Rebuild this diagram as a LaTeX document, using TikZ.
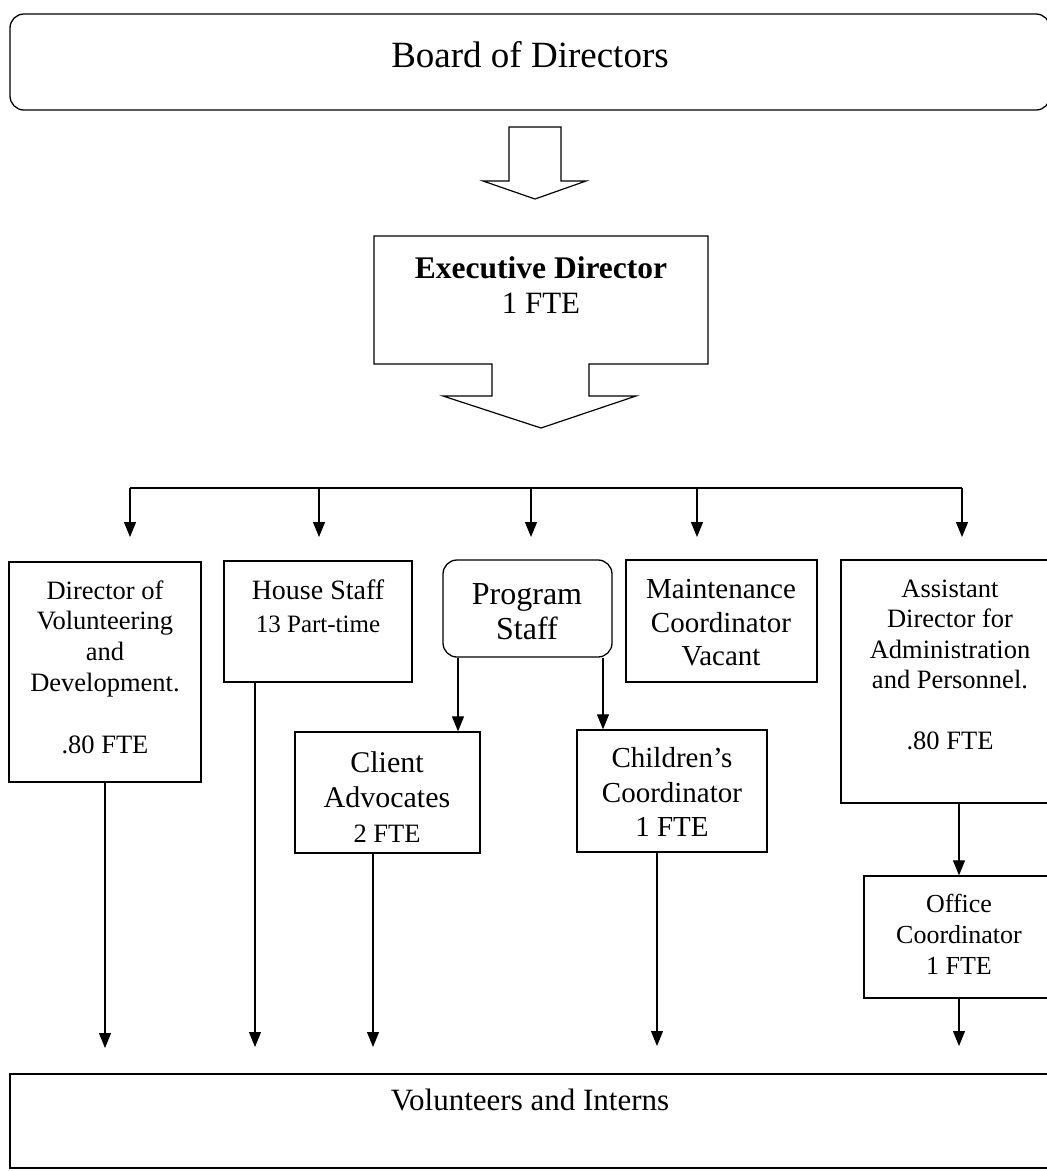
\documentclass[tikz,border=0pt]{standalone}
\usepackage{fontspec}
\setmainfont{Liberation Serif}
\usetikzlibrary{arrows.meta}
\begin{document}
\begin{tikzpicture}[x=1pt,y=-1pt,
  box/.style={draw, line width=1.3pt, inner sep=0pt},
  rbox/.style={box, rounded corners=14pt},
  lbl/.style={align=center, inner sep=0pt},
  conn/.style={line width=1.1pt, -{Triangle[width=12pt,length=15pt]}},
  plainline/.style={line width=1.2pt},
  hollow/.style={draw, line width=1.2pt, line join=miter}]
\useasboundingbox (0,0) rectangle (1047,1171);
\clip (0,0) rectangle (1047,1171);

% Board
\node[rbox, minimum width=1040pt, minimum height=96pt] (board) at (530,62) {};
\node[lbl, font=\fontsize{37}{40}\selectfont] (tboard) at (530,55) {Board of Directors};

% hollow arrow
\draw[hollow] (509,127) -- (561,127) -- (561,181) -- (586,181) -- (535,199)
  -- (483,181) -- (509,181) -- cycle;

% Executive director callout
\draw[hollow] (374,236) -- (708,236) -- (708,364) -- (589,364) -- (589,396)
  -- (636,396) -- (541,428) -- (443,396) -- (492,396) -- (492,364)
  -- (374,364) -- cycle;
\node[lbl, font=\fontsize{31.5}{35}\selectfont] (texec) at (541,285)
  {\bfseries Executive Director\\ \mdseries\fontsize{31}{35}\selectfont 1 FTE};

% distribution bar
\coordinate (barL) at (130,488);
\coordinate (barR) at (962,488);
\coordinate (b2) at (319,488);
\coordinate (b3) at (531,488);
\coordinate (b4) at (697,488);
\coordinate (t1) at (130,537);
\coordinate (t2) at (319,537);
\coordinate (t3) at (531,537);
\coordinate (t4) at (697,537);
\coordinate (t5) at (962,537);
\draw[plainline] (barL) -- (barR);
\draw[conn] (barL) -- (t1);
\draw[conn] (b2) -- (t2);
\draw[conn] (b3) -- (t3);
\draw[conn] (b4) -- (t4);
\draw[conn] (barR) -- (t5);

% second row boxes
\node[box, minimum width=192pt, minimum height=220pt] (dir) at (105,672) {};
\node[lbl, font=\fontsize{26.5}{30.8}\selectfont] (tdir) at (105,667)
  {Director of\\Volunteering\\and\\Development.\\[30.8pt].80 FTE};

\node[box, minimum width=188pt, minimum height=121pt] (house) at (318,621.5) {};
\node[lbl, font=\fontsize{28}{33}\selectfont] (thouse) at (318,606)
  {House Staff\\ \fontsize{25}{33}\selectfont 13 Part-time};

\node[rbox, minimum width=169pt, minimum height=97pt] (prog) at (527.5,608.5) {};
\node[lbl, font=\fontsize{32}{35}\selectfont] (tprog) at (527,612) {Program\\Staff};

\node[box, minimum width=191pt, minimum height=122pt] (maint) at (721.5,621) {};
\node[lbl, font=\fontsize{29}{33.5}\selectfont] (tmaint) at (721,623)
  {Maintenance\\Coordinator\\Vacant};

\node[box, minimum width=218pt, minimum height=243pt] (asst) at (950,681.5) {};
\node[lbl, font=\fontsize{26.5}{30.5}\selectfont] (tasst) at (950,665)
  {Assistant\\Director for\\Administration\\and Personnel.\\[30.5pt].80 FTE};

% third row
\node[box, minimum width=185pt, minimum height=121pt] (client) at (387.5,792.5) {};
\node[lbl, font=\fontsize{30}{35}\selectfont] (tclient) at (387,797)
  {Client\\Advocates\\ \fontsize{26.5}{35}\selectfont 2 FTE};

\node[box, minimum width=190pt, minimum height=122pt] (child) at (672,791) {};
\node[lbl, font=\fontsize{29}{34.5}\selectfont] (tchild) at (672,792)
  {Children’s\\Coordinator\\1 FTE};

\node[box, minimum width=190pt, minimum height=122pt] (office) at (959,937) {};
\node[lbl, font=\fontsize{26}{31}\selectfont] (toffice) at (959,934)
  {Office\\Coordinator\\1 FTE};

% volunteers
\node[box, minimum width=1040pt, minimum height=94pt] (vol) at (530,1121) {};
\node[lbl, font=\fontsize{31}{35}\selectfont] (tvol) at (530,1100) {Volunteers and Interns};

% program staff to its two boxes
\draw[conn] ([xshift=-69.5pt]prog.south) -- ([xshift=70.5pt]client.north);
\draw[conn] ([xshift=75.5pt]prog.south) -- ([xshift=-69pt]child.north);

% assistant to office
\draw[conn] ([xshift=9pt]asst.south) -- (office.north);

% down to volunteers
\coordinate (v1) at (105,1048);
\coordinate (v2) at (255,1047);
\coordinate (v3) at (373,1047);
\coordinate (v4) at (657,1046);
\coordinate (v5) at (959,1046);
\draw[conn] (dir.south) -- (v1);
\draw[conn] ([xshift=-63pt]house.south) -- (v2);
\draw[conn] ([xshift=-14.5pt]client.south) -- (v3);
\draw[conn] ([xshift=-15pt]child.south) -- (v4);
\draw[conn] (office.south) -- (v5);
\end{tikzpicture}
\end{document}
